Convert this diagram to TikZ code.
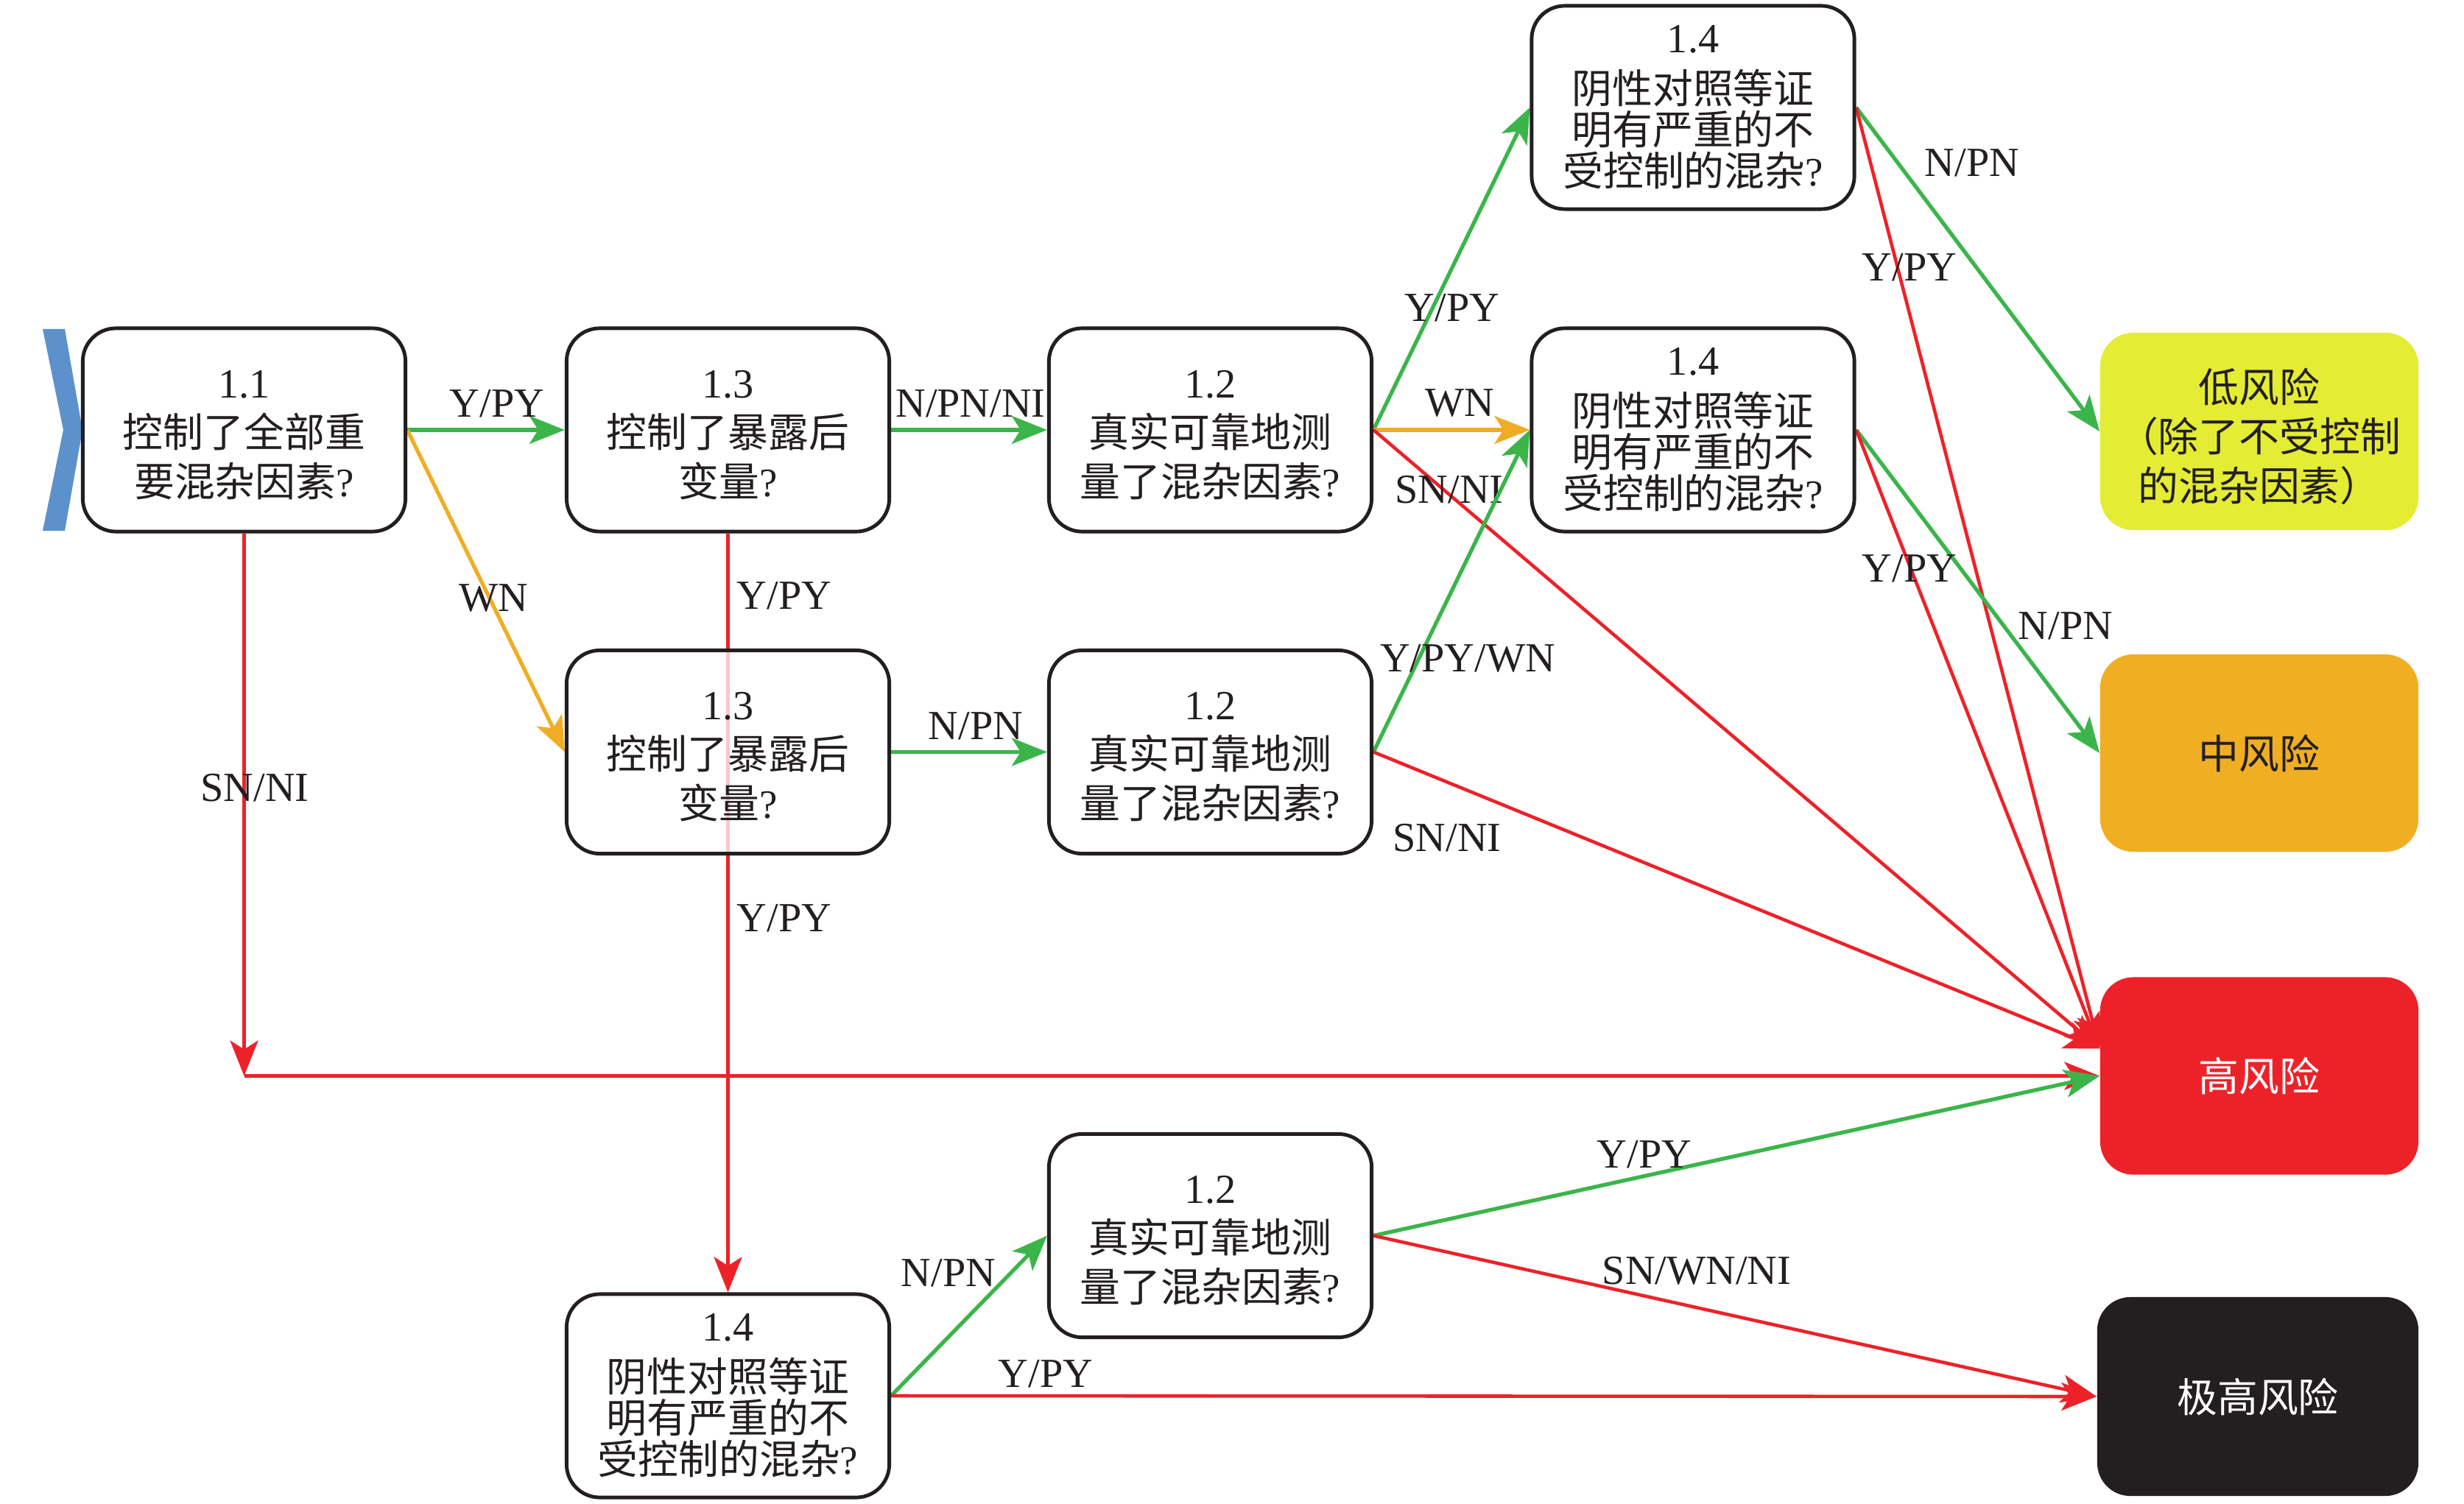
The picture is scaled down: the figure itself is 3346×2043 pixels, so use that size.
\documentclass[tikz,border=0pt]{standalone}
\usepackage{fontspec}
\setmainfont{Liberation Serif}
\newfontfamily\cjk{Noto Sans CJK SC}
\usetikzlibrary{arrows.meta,calc}
\pgfdeclarelayer{bg}
\pgfdeclarelayer{lines}
\pgfsetlayers{bg,lines,main}
\definecolor{cgreen}{RGB}{59,181,74}
\definecolor{corange}{RGB}{240,173,36}
\definecolor{cred}{RGB}{237,34,41}
\definecolor{cyellow}{RGB}{228,236,52}
\definecolor{cmid}{RGB}{240,174,35}
\definecolor{cblack}{RGB}{35,31,32}
\definecolor{cblue}{RGB}{92,145,204}
\definecolor{ctext}{RGB}{35,31,32}
\newcommand\numf{\fontsize{16}{19}\selectfont\rule{0pt}{14.5pt}}
\newcommand\numg{\fontsize{16}{16}\selectfont}
\newcommand\topstrut{\rule{0pt}{17pt}}
\begin{document}
\begin{tikzpicture}[x=0.01cm,y=-0.01cm,
  qbox/.style={draw=cblack, line width=1.4pt, rounded corners=0.45cm, fill=white,
    minimum width=4.38cm, minimum height=2.76cm, inner sep=0pt, align=center,
    text=ctext, font=\fontsize{15.6}{19}\selectfont},
  qboxf/.style={qbox, font=\fontsize{15.6}{16}\selectfont},
  rbox/.style={rounded corners=0.45cm, minimum width=4.32cm, minimum height=2.68cm,
    inner sep=0pt, align=center, font=\fontsize{15.6}{19}\selectfont},
  lab/.style={inner sep=0pt, text=ctext, font=\fontsize{16}{19}\selectfont},
  tipa/.style={-{Stealth[length=0.48cm,width=0.38cm,inset=0.12cm]}},
  garrow/.style={cgreen, line width=1.5pt, tipa},
  oarrow/.style={corange, line width=1.5pt, tipa},
  rarrow/.style={cred, line width=1.3pt, tipa},
]
\begin{pgfonlayer}{bg}
\fill[white] (0,0) rectangle (3346,2043);
\end{pgfonlayer}
\useasboundingbox (0,0) rectangle (3346,2043);

% start marker
\fill[cblue] (58,447) -- (88,447) -- (112,584) -- (88,721) -- (58,721) -- (86,584) -- cycle;

% question boxes
\node[qbox] (b11) at (331.5,584) {{\numf 1.1}\\{\cjk 控制了全部重}\\{\cjk 要混杂因素}?};
\node[qbox] (b13a) at (988.5,584) {{\numf 1.3}\\{\cjk 控制了暴露后}\\{\cjk 变量}?};
\node[qbox] (b12a) at (1643.5,584) {{\numf 1.2}\\{\cjk 真实可靠地测}\\{\cjk 量了混杂因素}?};
\node[qboxf] (b14a) at (2299,146) {{\numg 1.4}\\[3.5pt]{\cjk 阴性对照等证}\\{\cjk 明有严重的不}\\{\cjk 受控制的混杂}?};
\node[qboxf] (b14b) at (2299,584) {{\numg 1.4}\\[3.5pt]{\cjk 阴性对照等证}\\{\cjk 明有严重的不}\\{\cjk 受控制的混杂}?};
\node[qbox, fill opacity=0.75, text opacity=1] (b13b) at (988.5,1021.5) {{\numf 1.3}\\{\cjk 控制了暴露后}\\{\cjk 变量}?};
\node[qbox] (b12b) at (1643.5,1021.5) {{\numf 1.2}\\{\cjk 真实可靠地测}\\{\cjk 量了混杂因素}?};
\node[qbox] (b12c) at (1643.5,1678.5) {{\numf 1.2}\\{\cjk 真实可靠地测}\\{\cjk 量了混杂因素}?};
\node[qboxf] (b14c) at (988.5,1896) {{\numg 1.4}\\[3.5pt]{\cjk 阴性对照等证}\\{\cjk 明有严重的不}\\{\cjk 受控制的混杂}?};

% risk boxes
\node[rbox, fill=cyellow, text=ctext] (low) at (3068,586) {\topstrut\cjk 低风险\\\cjk （除了不受控制\\\cjk 的混杂因素）};
\node[rbox, fill=cmid, text=ctext] (mid) at (3068,1023) {\cjk 中风险};
\node[rbox, fill=cred, text=white] (high) at (3068,1461.5) {\cjk 高风险};
\node[rbox, fill=cblack, text=white, minimum width=4.36cm, minimum height=2.7cm] (ext) at (3066,1897) {\cjk 极高风险};

\coordinate (j) at (b11.south |- high.west);
\coordinate (hiA) at ($(high.west)+(0,-37)$);

\begin{pgfonlayer}{lines}
\draw[garrow] (b11.east) -- (b13a.west) node[lab, at={(675,548)}] (l1) {Y/PY};
\draw[oarrow] (b11.east) -- (b13b.west) node[lab, at={(670,813)}] (l2) {WN};
\draw[rarrow] (b11.south) -- (j) node[lab, at={(346,1070)}] (l3) {SN/NI};
\draw[rarrow] (j) -- (high.west);
\draw[rarrow] (b13a.south) -- (b14c.north)
  node[lab, at={(1065,809)}] (l4) {Y/PY}
  node[lab, at={(1065,1247)}] (l5) {Y/PY};
\draw[garrow] (b13a.east) -- (b12a.west) node[lab, at={(1318,548)}] (l6) {N/PN/NI};
\draw[garrow] (b13b.east) -- (b12b.west) node[lab, at={(1325,986)}] (l7) {N/PN};
\draw[garrow] (b12a.east) -- (b14a.west) node[lab, at={(1972,418)}] (l8) {Y/PY};
\draw[oarrow] (b12a.east) -- (b14b.west) node[lab, at={(1982,548)}] (l9) {WN};
\draw[rarrow] (b12a.east) -- (hiA) node[lab, at={(1968,665)}] (l10) {SN/NI};
\draw[garrow] (b12b.east) -- (b14b.west) node[lab, at={(1993,894)}] (l11) {Y/PY/WN};
\draw[rarrow] (b12b.east) -- (hiA) node[lab, at={(1965,1138)}] (l12) {SN/NI};
\draw[garrow] (b14a.east) -- (low.west) node[lab, at={(2678,221)}] (l13) {N/PN};
\draw[rarrow] (b14a.east) -- (hiA) node[lab, at={(2593,363)}] (l14) {Y/PY};
\draw[garrow] (b14b.east) -- (mid.west) node[lab, at={(2805,850)}] (l15) {N/PN};
\draw[rarrow] (b14b.east) -- (hiA) node[lab, at={(2593,772)}] (l16) {Y/PY};
\draw[garrow] (b14c.east) -- (b12c.west) node[lab, at={(1288,1729)}] (l17) {N/PN};
\draw[rarrow] (b14c.east) -- (ext.west) node[lab, at={(1420,1866)}] (l18) {Y/PY};
\draw[garrow] (b12c.east) -- (high.west) node[lab, at={(2233,1568)}] (l19) {Y/PY};
\draw[rarrow] (b12c.east) -- (ext.west) node[lab, at={(2304,1726)}] (l20) {SN/WN/NI};
\end{pgfonlayer}
\end{tikzpicture}
\end{document}
